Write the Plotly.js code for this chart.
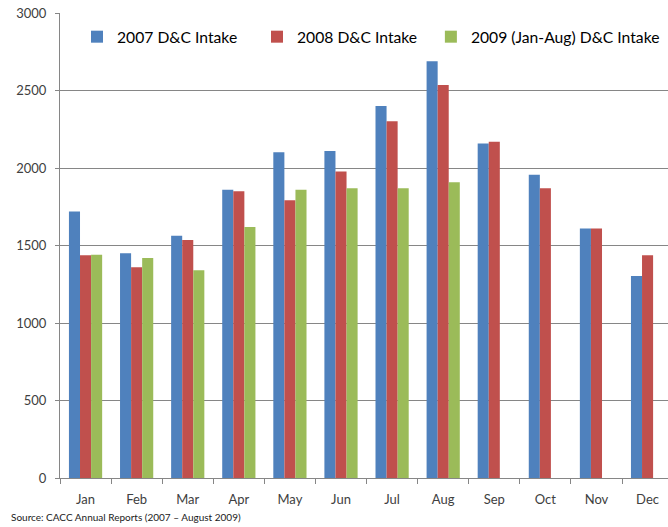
<!DOCTYPE html>
<html>
<head>
<meta charset="utf-8">
<script src="https://cdn.plot.ly/plotly-3.0.1.min.js"></script>
<style>html,body{margin:0;padding:0;background:#fff;}#chart{width:668px;height:527px;}</style>
</head>
<body>
<div id="chart"></div>
<script>
const months = ["Jan","Feb","Mar","Apr","May","Jun","Jul","Aug","Sep","Oct","Nov","Dec"];
const intake2007 = [1720,1450,1563,1860,2102,2110,2400,2688,2158,1957,1609,1303];
const intake2008 = [1437,1360,1536,1850,1792,1977,2302,2535,2169,1869,1609,1437];
const intake2009 = [1440,1419,1340,1620,1860,1869,1869,1908,null,null,null,null];
const seriesNames = ["2007 D&C Intake","2008 D&C Intake","2009 (Jan-Aug) D&C Intake"];
const yTicks = [0,500,1000,1500,2000,2500,3000];
const sourceNote = "Source: CACC Annual Reports (2007 \u2013 August 2009)";

const colors = ["#4F81BD","#C0504D","#9BBB59"];
const series = [intake2007, intake2008, intake2009];
const font = "Lato, 'Open Sans', sans-serif";
const legendIds = ["legend","legend2","legend3"];
const legendX = [0.028, 0.324, 0.610];

const data = series.map((vals, i) => ({
  type: "bar",
  x: months,
  y: vals,
  name: seriesNames[i],
  legend: legendIds[i],
  marker: {color: colors[i], line: {width: 0}},
  hoverinfo: "skip"
}));

const layout = {
  width: 668,
  height: 527,
  margin: {l: 60, r: 0, t: 13, b: 49},
  paper_bgcolor: "#fff",
  plot_bgcolor: "#fff",
  barmode: "group",
  bargap: 0.35,
  bargroupgap: 0,
  font: {family: font, size: 13, color: "#404040"},
  showlegend: true,
  xaxis: {
    type: "category",
    range: [-0.5, 11.40],
    tickson: "boundaries",
    ticks: "outside",
    ticklen: 5,
    tickcolor: "#868686",
    showline: true,
    linecolor: "#868686",
    linewidth: 1,
    showgrid: false,
    ticklabelstandoff: 9,
    tickfont: {family: font, size: 13, color: "#404040"},
    fixedrange: true
  },
  yaxis: {
    range: [0, 3000],
    tickvals: yTicks,
    ticks: "outside",
    ticklen: 4,
    tickcolor: "#868686",
    showline: true,
    linecolor: "#868686",
    linewidth: 1,
    showgrid: true,
    gridcolor: "#868686",
    gridwidth: 1,
    zeroline: false,
    ticklabelstandoff: 6,
    tickfont: {family: font, size: 13, color: "#404040"},
    fixedrange: true
  },
  annotations: [{
    text: sourceNote,
    xref: "paper", yref: "paper",
    x: -0.084, xanchor: "left",
    y: -0.084, yanchor: "middle",
    showarrow: false,
    font: {family: font, size: 10, color: "#1a1a1a"}
  }]
};

legendIds.forEach((id, i) => {
  layout[id] = {
    orientation: "h",
    x: legendX[i], xanchor: "left",
    y: 0.985, yanchor: "top",
    bgcolor: "rgba(0,0,0,0)",
    font: {family: font, size: 15.7, color: "#000"},
    itemwidth: 30,
    itemclick: false
  };
});

Plotly.newPlot("chart", data, layout, {staticPlot: true, displayModeBar: false});
</script>
</body>
</html>
